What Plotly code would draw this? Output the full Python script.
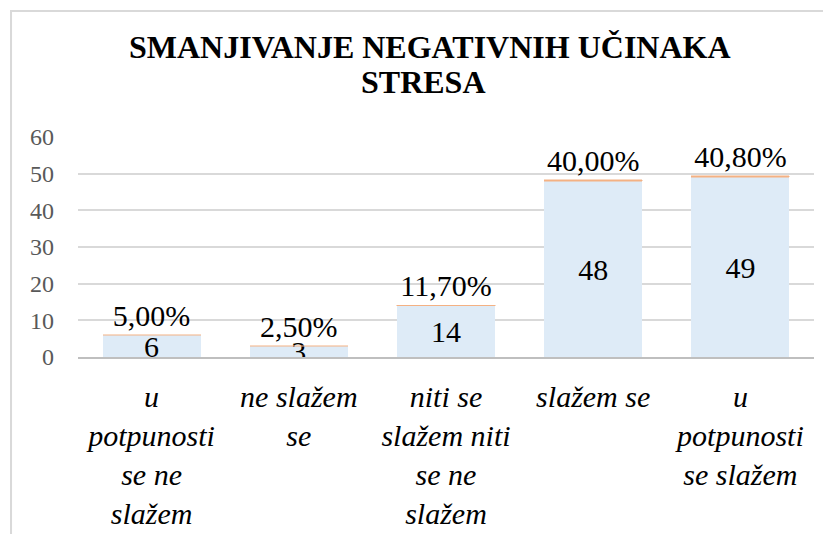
import plotly.graph_objects as go

# data
categories = [
    "u<br>potpunosti<br>se ne<br>slažem",
    "ne slažem<br>se",
    "niti se<br>slažem niti<br>se ne<br>slažem",
    "slažem se",
    "u<br>potpunosti<br>se slažem",
]
counts = [6, 3, 14, 48, 49]
shares = [0.05, 0.025, 0.117, 0.40, 0.408]
y_ticks = [0, 10, 20, 30, 40, 50, 60]
title_lines = ["SMANJIVANJE NEGATIVNIH UČINAKA", "STRESA"]

share_labels = [f"{s * 100:.2f}%".replace(".", ",") for s in shares]
FONT = "Liberation Serif"

fig = go.Figure()

# counts, label centred in the bar
fig.add_trace(go.Bar(
    x=categories, y=counts,
    text=[str(c) for c in counts],
    textposition="inside", insidetextanchor="middle", textangle=0,
    textfont=dict(family=FONT, size=30, color="black"),
    insidetextfont=dict(family=FONT, size=30, color="black"),
    marker=dict(color="#DEEBF7", line=dict(width=0)),
    constraintext="none",
    name="broj",
))

# shares stacked on top (very thin), label above
fig.add_trace(go.Bar(
    x=categories, y=shares,
    text=share_labels,
    textposition="outside", textangle=0,
    textfont=dict(family=FONT, size=30, color="black"),
    outsidetextfont=dict(family=FONT, size=30, color="black"),
    marker=dict(color="#F4B183", line=dict(color="#F4B183", width=0.5)),
    constraintext="none",
    cliponaxis=False,
    name="postotak",
))

# page body has an 8px margin, so the figure is 8px smaller each way
fig.update_layout(
    width=823, height=526,
    barmode="stack", bargap=0.333,
    showlegend=False,
    plot_bgcolor="white", paper_bgcolor="white",
    margin=dict(l=70, r=17, t=129, b=177, autoexpand=False),
    font=dict(family=FONT),
)

# title, two lines placed separately to control the line gap
for txt, yy, xx in zip(title_lines, [1.409, 1.25], [0.478, 0.470]):
    fig.add_annotation(
        text=f"<b>{txt}</b>", xref="paper", yref="paper",
        x=xx, y=yy, xanchor="center", yanchor="middle", showarrow=False,
        font=dict(family=FONT, size=32, color="black"),
    )

fig.update_yaxes(
    range=[0, 60], tickvals=y_ticks,
    showgrid=True, gridcolor="#D9D9D9", gridwidth=1.5,
    zeroline=False, showline=False,
    tickfont=dict(family=FONT, size=24, color="#595959"),
    ticklabelstandoff=23, automargin=False,
)
fig.update_xaxes(
    showline=True, linecolor="#BFBFBF", linewidth=2,
    tickfont=dict(family=FONT, size=30, color="black", style="italic"),
    ticklabelstandoff=12, automargin=False,
)

# chart frame (partly outside the visible page)
fig.add_shape(
    type="rect", xref="paper", yref="paper",
    x0=-0.091, x1=1.2, y0=-2.0, y1=1.573,
    line=dict(color="#D9D9D9", width=2), fillcolor="rgba(0,0,0,0)",
    layer="below",
)

fig.write_html("out.html")
